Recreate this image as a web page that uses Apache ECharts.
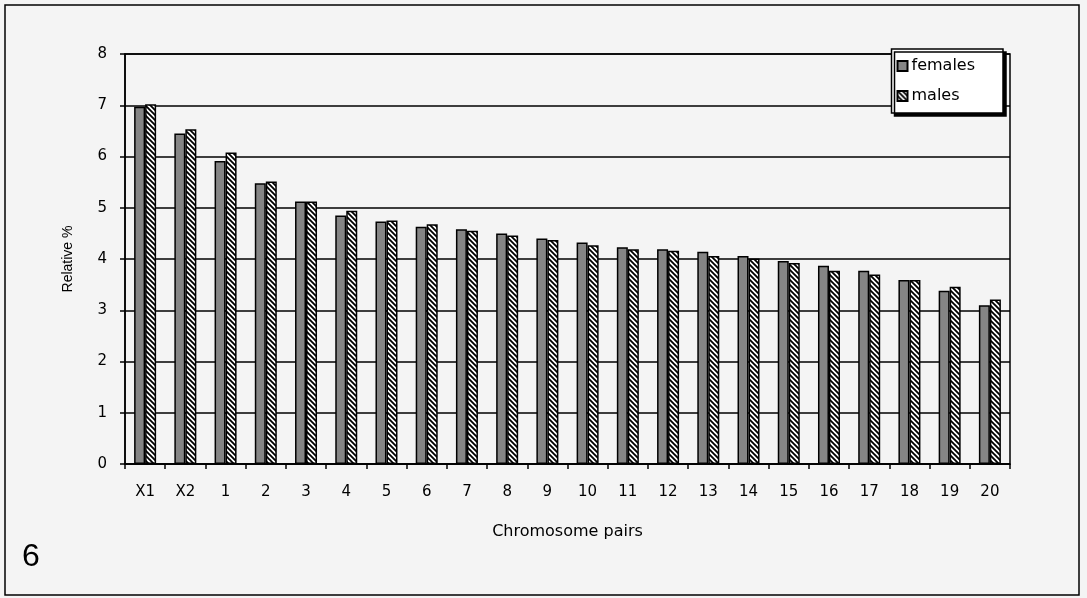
<!DOCTYPE html>
<html>
<head>
<meta charset="utf-8">
<script src="https://cdn.jsdelivr.net/npm/echarts@6/dist/echarts.min.js"></script>
<style>
  html, body { margin: 0; padding: 0; background: #f4f4f4; }
  #main { width: 1087px; height: 598px; }
</style>
</head>
<body>
<div id="main"></div>
<script>
// chromosome pairs and relative %
var categories = ['X1', 'X2', '1', '2', '3', '4', '5', '6', '7', '8', '9', '10',
  '11', '12', '13', '14', '15', '16', '17', '18', '19', '20'];
var females = [6.97, 6.45, 5.91, 5.48, 5.12, 4.85, 4.73, 4.63, 4.58, 4.50, 4.40, 4.32,
  4.23, 4.19, 4.14, 4.06, 3.96, 3.87, 3.77, 3.59, 3.38, 3.10];
var males = [7.02, 6.53, 6.08, 5.51, 5.12, 4.94, 4.75, 4.68, 4.55, 4.46, 4.37, 4.27,
  4.19, 4.16, 4.06, 4.01, 3.92, 3.77, 3.70, 3.59, 3.46, 3.21];
var yTicks = [0, 1, 2, 3, 4, 5, 6, 7, 8];

var FONT = '"Liberation Sans", Arial, sans-serif';
var WIDE = '"DejaVu Sans", sans-serif';

// hatch tile for the males bars
function hatch() {
  var c = document.createElement('canvas');
  c.width = 5; c.height = 5;
  var ctx = c.getContext('2d');
  ctx.fillStyle = '#fff';
  ctx.fillRect(0, 0, 5, 5);
  ctx.strokeStyle = '#000';
  ctx.lineWidth = 1.8;
  ctx.beginPath();
  ctx.moveTo(-1, -1); ctx.lineTo(6, 6);
  ctx.moveTo(-1, 4); ctx.lineTo(1, 6);
  ctx.moveTo(4, -1); ctx.lineTo(6, 1);
  ctx.stroke();
  return c;
}
var hatchFill = { image: hatch(), repeat: 'repeat' };

var chart = echarts.init(document.getElementById('main'), null, { renderer: 'canvas' });

var option = {
  backgroundColor: '#f4f4f4',
  animation: false,
  textStyle: { fontFamily: FONT },
  grid: {
    left: 125, right: 77, top: 54, bottom: 134,
    show: true, borderColor: '#000', borderWidth: 1.5, backgroundColor: 'transparent'
  },
  legend: {
    orient: 'vertical',
    right: 84, top: 49,
    data: ['females', 'males'],
    backgroundColor: '#fff',
    borderColor: '#000',
    borderWidth: 1.5,
    borderRadius: 0,
    shadowColor: '#000',
    shadowOffsetX: 3,
    shadowOffsetY: 3,
    padding: [9, 28, 9, 5],
    itemWidth: 10,
    itemHeight: 10,
    itemGap: 14,
    icon: 'rect',
    textStyle: { fontSize: 16, color: '#000', fontFamily: WIDE, padding: [0, 0, 0, -1] }
  },
  xAxis: {
    type: 'category',
    data: categories,
    name: 'Chromosome pairs',
    nameLocation: 'middle',
    nameGap: 60,
    nameTextStyle: { fontSize: 16, color: '#000', fontFamily: WIDE },
    axisLine: { lineStyle: { color: '#000', width: 1.5 } },
    axisTick: { show: true, length: 5, lineStyle: { color: '#000', width: 1.5 } },
    axisLabel: { color: '#000', fontSize: 15, margin: 21, fontFamily: WIDE },
    splitLine: { show: false }
  },
  yAxis: {
    type: 'value',
    min: 0, max: 8, interval: 1,
    name: 'Relative %',
    nameLocation: 'middle',
    nameGap: 50,
    nameTextStyle: { fontSize: 14, color: '#000' },
    axisLine: { show: true, lineStyle: { color: '#000', width: 1.5 } },
    axisTick: { show: true, inside: false, length: 5, lineStyle: { color: '#000', width: 1.5 } },
    axisLabel: {
      color: '#000', fontSize: 15, margin: 18, fontFamily: WIDE,
      formatter: function (v) { return yTicks.indexOf(v) >= 0 ? String(v) : ''; }
    },
    splitLine: { show: true, lineStyle: { color: '#000', width: 1.5 } }
  },
  series: [
    {
      name: 'females',
      type: 'bar',
      data: females,
      barWidth: 11,
      barGap: '0%',
      itemStyle: { color: '#858585', borderColor: '#000', borderWidth: 1.5 }
    },
    {
      name: 'males',
      type: 'bar',
      data: males,
      barWidth: 11,
      itemStyle: { color: hatchFill, borderColor: '#000', borderWidth: 1.5 }
    }
  ],
  graphic: [
    {
      type: 'rect',
      shape: { x: 5, y: 5, width: 1074, height: 590 },
      style: { fill: 'none', stroke: '#000', lineWidth: 1.5 },
      silent: true
    },
    {
      type: 'text',
      left: 22, top: 541,
      style: { text: '6', font: '32px ' + FONT, fill: '#000' }
    }
  ]
};

chart.setOption(option);
</script>
</body>
</html>
